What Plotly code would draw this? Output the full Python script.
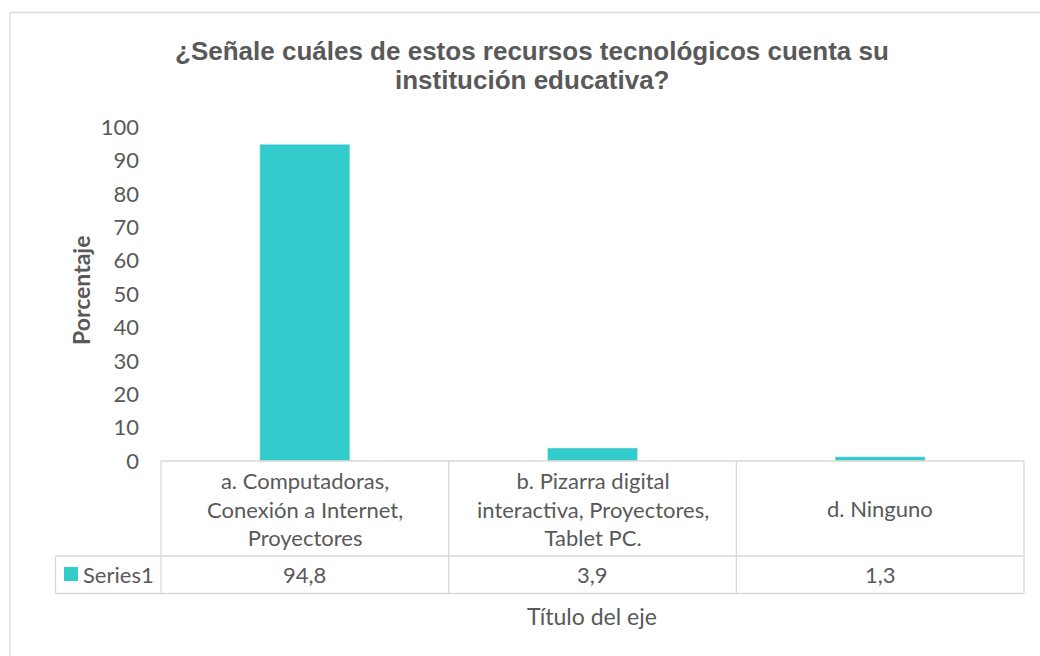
import plotly.graph_objects as go

categories = ["a. Computadoras,<br>Conexión a Internet,<br>Proyectores",
              "b. Pizarra digital<br>interactiva, Proyectores,<br>Tablet PC.",
              "d. Ninguno"]
values = [94.8, 3.9, 1.3]
value_labels = ["94,8", "3,9", "1,3"]
series_name = "Series1"
title_lines = ["¿Señale cuáles de estos recursos tecnológicos cuenta su", "institución educativa?"]
y_title = "Porcentaje"
x_title = "Título del eje"

W, H = 1040, 656
L, R, T, B = 161, 1024, 127, 461  # plot area pixel box
pw, ph = R - L, B - T

def px(xp):
    return (xp - L) / pw

def py(yp):
    return (B - yp) / ph

bar_color = "#33CCCC"
txt = "#595959"
grid = "#D9D9D9"
cal = "Lato, Open Sans, sans-serif"
ari = "Liberation Sans, Arial, sans-serif"

xs = list(range(len(categories)))

fig = go.Figure(go.Bar(x=xs, y=values, marker_color=bar_color, width=0.313, name=series_name))

shapes = []
annotations = []

# chart border
shapes.append(dict(type="rect", xref="paper", yref="paper", x0=px(10), x1=px(1060),
                   y0=py(680), y1=py(12.5), line=dict(color=grid, width=1.3), layer="below"))

# table lines
row1 = py(556)
row2 = py(593.5)
line = dict(color=grid, width=1.3)
shapes.append(dict(type="line", xref="paper", yref="paper", x0=0, x1=1, y0=0, y1=0, line=line))
shapes.append(dict(type="line", xref="paper", yref="paper", x0=px(55.5), x1=1, y0=row1, y1=row1, line=line))
shapes.append(dict(type="line", xref="paper", yref="paper", x0=px(55.5), x1=1, y0=row2, y1=row2, line=line))
shapes.append(dict(type="line", xref="paper", yref="paper", x0=px(55.5), x1=px(55.5), y0=row1, y1=row2, line=line))
shapes.append(dict(type="line", xref="paper", yref="paper", x0=0, x1=0, y0=0, y1=row2, line=line))
shapes.append(dict(type="line", xref="paper", yref="paper", x0=1, x1=1, y0=0, y1=row2, line=line))
for i in range(1, len(categories)):
    shapes.append(dict(type="line", xref="x", yref="paper", x0=i - 0.5, x1=i - 0.5, y0=0, y1=row2, line=line))

# category labels and values
for i, (c, v) in enumerate(zip(categories, value_labels)):
    annotations.append(dict(x=i, y=(0 + row1) / 2, xref="x", yref="paper", text=c, showarrow=False,
                            font=dict(family=cal, size=22, color=txt), align="center",
                            yanchor="middle"))
    annotations.append(dict(x=i, y=(row1 + row2) / 2, xref="x", yref="paper", text=v, showarrow=False,
                            font=dict(family=cal, size=22, color=txt), yanchor="middle"))

# legend key in table
shapes.append(dict(type="rect", xref="paper", yref="paper", x0=px(64), x1=px(78),
                   y0=py(581), y1=py(567), fillcolor=bar_color, line=dict(width=0)))
annotations.append(dict(x=px(81), y=(row1 + row2) / 2, xref="paper", yref="paper", text=series_name,
                        showarrow=False, xanchor="left", yanchor="middle",
                        font=dict(family=cal, size=22, color=txt)))

# title lines
for yy, t in zip([51, 80], title_lines):
    annotations.append(dict(x=px(532), y=py(yy), xref="paper", yref="paper", text="<b>" + t + "</b>",
                            showarrow=False, xanchor="center", yanchor="middle",
                            font=dict(family=ari, size=26, color=txt)))

# axis titles
annotations.append(dict(x=px(65), y=py(291), xref="paper", yref="paper", text="<b>" + y_title + "</b>",
                        textangle=-90, showarrow=False, font=dict(family=cal, size=23, color=txt)))
annotations.append(dict(x=px(592), y=py(616), xref="paper", yref="paper", text=x_title,
                        showarrow=False, yanchor="middle", font=dict(family=cal, size=23, color=txt)))

fig.update_layout(
    width=W, height=H,
    margin=dict(l=L, r=W - R, t=T, b=H - B, pad=0),
    paper_bgcolor="white", plot_bgcolor="white",
    showlegend=False,
    shapes=shapes,
    annotations=annotations,
)
fig.update_xaxes(range=[-0.5, len(categories) - 0.5], showticklabels=False, showgrid=False,
                 zeroline=False, showline=False, ticks="")
fig.update_yaxes(range=[0, 100], dtick=10, showgrid=False, zeroline=False, showline=False,
                 ticks="", ticklabelstandoff=21,
                 tickfont=dict(family=cal, size=22, color=txt))

fig.write_html("out.html", config={"displayModeBar": False},
               post_script="document.body.style.margin='0';")
